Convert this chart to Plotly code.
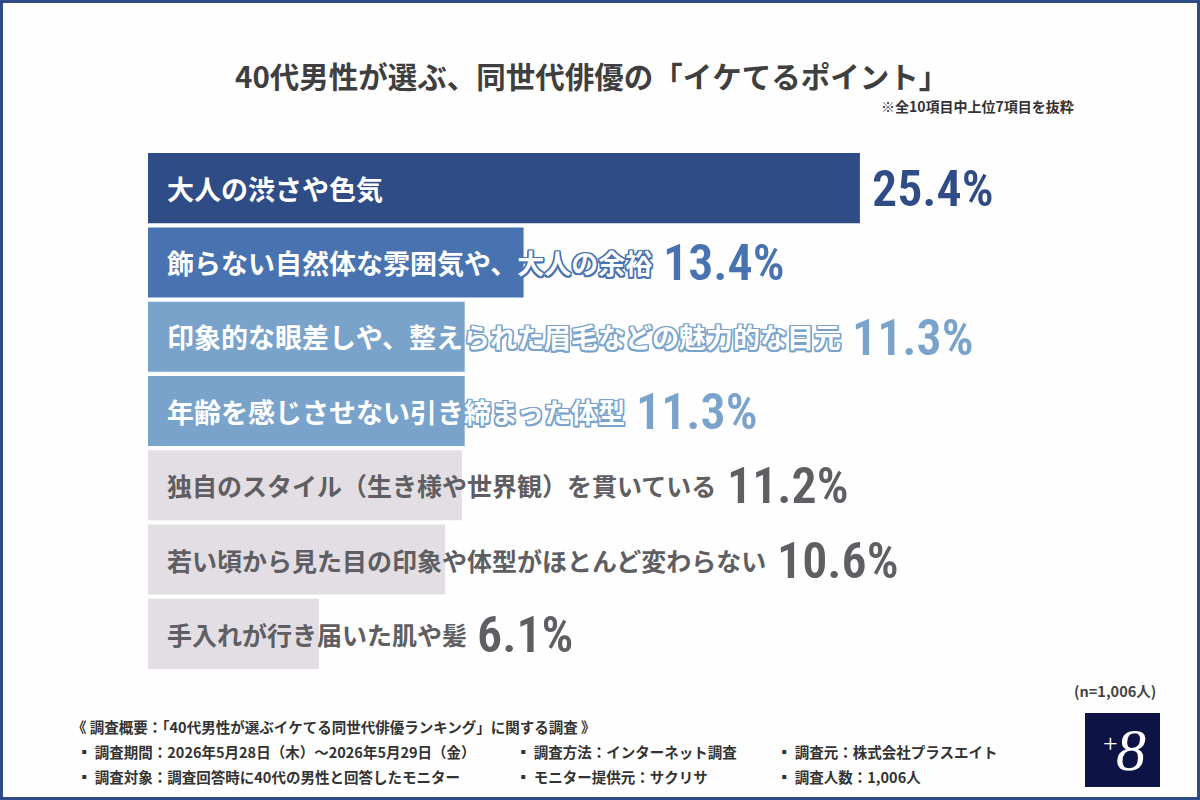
import plotly.graph_objects as go

# ---------------- data ----------------
categories = [
    "大人の渋さや色気",
    "飾らない自然体な雰囲気や、大人の余裕",
    "印象的な眼差しや、整えられた眉毛などの魅力的な目元",
    "年齢を感じさせない引き締まった体型",
    "独自のスタイル（生き様や世界観）を貫いている",
    "若い頃から見た目の印象や体型がほとんど変わらない",
    "手入れが行き届いた肌や髪",
]
values = [25.4, 13.4, 11.3, 11.3, 11.2, 10.6, 6.1]
value_labels = ["25.4%", "13.4%", "11.3%", "11.3%", "11.2%", "10.6%", "6.1%"]

bar_colors = ["#2f4c87", "#4872b0", "#7aa3cb", "#7aa3cb", "#e2dee3", "#e2dee3", "#e2dee3"]
label_colors = ["#ffffff", "#ffffff", "#ffffff", "#ffffff", "#5f5e63", "#5f5e63", "#5f5e63"]
value_colors = ["#2f4c87", "#4872b0", "#7aa3cb", "#7aa3cb", "#5f5e63", "#5f5e63", "#5f5e63"]
label_sizes = [27, 27, 27, 27, 25, 25, 25]
outlined = [True, True, True, True, False, False, False]

title = "40代男性が選ぶ、同世代俳優の「イケてるポイント」"
subnote = "※全10項目中上位7項目を抜粋"
n_note = "(n=1,006人)"
footer_head = "《 調査概要：「40代男性が選ぶイケてる同世代俳優ランキング」に関する調査 》"
footer_col1 = ["▪ 調査期間：2026年5月28日（木）～2026年5月29日（金）",
               "▪ 調査対象：調査回答時に40代の男性と回答したモニター"]
footer_col2 = ["▪ 調査方法：インターネット調査", "▪ モニター提供元：サクリサ"]
footer_col3 = ["▪ 調査元：株式会社プラスエイト", "▪ 調査人数：1,006人"]

# ---------------- layout geometry ----------------
W, H = 1200, 800
L, R, T, B = 148, 43, 151, 129
PW, PH = W - L - R, H - T - B
XMAX = 36.0
SCALE = PW / XMAX  # px per percent

JP = "Noto Sans CJK JP, Noto Sans, sans-serif"
NUM = "Roboto Condensed, Roboto, sans-serif"


def px(x):
    return (x - L) / PW


def py(y):
    return (H - B - y) / PH


fig = go.Figure()
fig.add_trace(go.Bar(
    x=values, y=categories, orientation="h",
    marker=dict(color=bar_colors, line=dict(width=0)),
    hoverinfo="skip", showlegend=False,
))

annotations = []
TEXT_PAD = 17
GAP = 10
for cat, v, lab, lc, vc, ls, ol, bc in zip(categories, values, value_labels, label_colors,
                                          value_colors, label_sizes, outlined, bar_colors):
    font = dict(family=JP, size=ls, color=lc, weight="bold")
    if ol:
        s = 1.5
        offs = [(s, 0), (-s, 0), (0, s), (0, -s), (s, s), (-s, -s), (s, -s), (-s, s)]
        font["shadow"] = ", ".join(f"{a}px {b}px 0 {bc}" for a, b in offs)
    annotations.append(dict(
        x=0, y=cat, xref="x", yref="y", text=cat, showarrow=False,
        xanchor="left", yanchor="middle", xshift=TEXT_PAD, font=font,
    ))
    text_end = (TEXT_PAD + len(cat) * ls) / SCALE
    vx = max(v, text_end)
    annotations.append(dict(
        x=vx, y=cat, xref="x", yref="y", text=lab, showarrow=False,
        xanchor="left", yanchor="middle", xshift=GAP, yshift=-1,
        font=dict(family=NUM, size=50, color=vc, weight=600),
    ))

# title & notes
annotations.append(dict(x=px(591), y=py(75), xref="paper", yref="paper", text=title,
                        showarrow=False, xanchor="center", yanchor="middle",
                        font=dict(family=JP, size=29.5, color="#3f3f3f", weight="bold")))
annotations.append(dict(x=px(1076), y=py(106), xref="paper", yref="paper", text=subnote,
                        showarrow=False, xanchor="right", yanchor="middle",
                        font=dict(family=JP, size=14, color="#333333", weight="bold")))
annotations.append(dict(x=px(1158), y=py(690), xref="paper", yref="paper", text=n_note,
                        showarrow=False, xanchor="right", yanchor="middle",
                        font=dict(family=JP, size=14.5, color="#444444", weight="bold")))
annotations.append(dict(x=px(70), y=py(726), xref="paper", yref="paper", text=footer_head,
                        showarrow=False, xanchor="left", yanchor="middle",
                        font=dict(family=JP, size=14.5, color="#333333", weight="bold")))
for col, xpos in ((footer_col1, 75), (footer_col2, 514), (footer_col3, 775)):
    for i, t in enumerate(col):
        annotations.append(dict(x=px(xpos), y=py(751 + 25 * i), xref="paper", yref="paper",
                                text=t, showarrow=False, xanchor="left", yanchor="middle",
                                font=dict(family=JP, size=14.5, color="#333333", weight="bold")))
# logo text
annotations.append(dict(x=px(1110), y=py(743), xref="paper", yref="paper", text="+",
                        showarrow=False, xanchor="center", yanchor="middle",
                        font=dict(family="Liberation Serif, DejaVu Serif, serif", size=26, color="#ffffff")))
annotations.append(dict(x=px(1131), y=py(750), xref="paper", yref="paper", text="8",
                        showarrow=False, xanchor="center", yanchor="middle",
                        font=dict(family="Liberation Serif, DejaVu Serif, serif", size=60,
                                  color="#ffffff", style="italic")))

shapes = [
    dict(type="rect", xref="paper", yref="paper", x0=px(1085), x1=px(1160), y0=py(787), y1=py(713),
         fillcolor="#0d1445", line=dict(width=0), layer="below"),
    dict(type="rect", xref="paper", yref="paper", x0=px(0), x1=px(W), y0=py(H), y1=py(0),
         fillcolor="rgba(0,0,0,0)", line=dict(width=6, color="#2f4c87"), layer="above"),
]

fig.update_layout(
    width=W, height=H,
    margin=dict(l=L, r=R, t=T, b=B, pad=0),
    paper_bgcolor="#fefefe", plot_bgcolor="rgba(0,0,0,0)",
    bargap=0.057,
    xaxis=dict(range=[0, XMAX], visible=False, fixedrange=True),
    yaxis=dict(autorange="reversed", visible=False, fixedrange=True),
    annotations=annotations, shapes=shapes,
    showlegend=False,
)

fig.write_html("out.html")
